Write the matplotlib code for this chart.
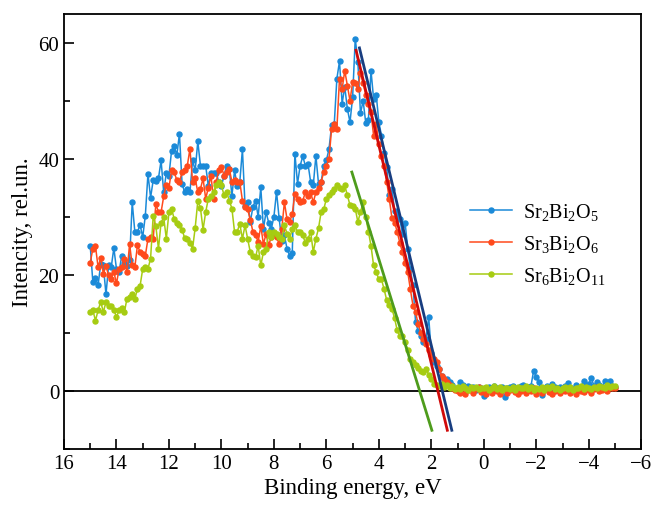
import numpy as np
import matplotlib
matplotlib.use("Agg")
import matplotlib.pyplot as plt
from matplotlib.ticker import MultipleLocator

plt.rcParams["font.family"] = ["Liberation Serif", "DejaVu Serif"]
plt.rcParams["mathtext.fontset"] = "custom"
plt.rcParams["mathtext.rm"] = "Liberation Serif"
plt.rcParams["mathtext.it"] = "Liberation Serif:italic"

# binding energy grid, 15 eV down to -5 eV in 0.1 eV steps
energy = np.round(np.arange(150, -51, -1) / 10, 1)

sr2 = [
    25.0, 18.7, 19.4, 18.2, 21.9, 21.6, 16.6, 21.6, 21.3, 24.6,
    21.0, 20.5, 23.3, 22.0, 21.5, 22.5, 32.5, 27.4, 27.4, 28.6,
    26.5, 30.2, 37.4, 33.3, 36.3, 36.2, 36.6, 39.7, 34.2, 37.6,
    37.1, 41.4, 42.2, 40.6, 44.3, 35.7, 34.2, 34.8, 34.2, 39.7,
    38.0, 43.0, 38.8, 38.8, 38.8, 35.3, 37.6, 37.6, 37.6, 36.0,
    35.3, 37.1, 38.8, 38.2, 33.6, 38.0, 35.3, 36.0, 41.6, 31.9,
    32.5, 29.1, 31.7, 32.8, 30.0, 35.1, 27.9, 30.8, 29.0, 27.9,
    30.0, 34.3, 29.7, 25.9, 26.8, 24.5, 23.3, 23.8, 40.9, 35.7,
    38.8, 40.4, 38.8, 39.1, 36.0, 35.4, 40.5, 35.7, 36.0, 38.8,
    39.7, 41.7, 45.8, 46.0, 53.8, 56.8, 49.5, 52.4, 48.6, 46.3,
    50.6, 60.7, 56.7, 47.8, 50.0, 46.2, 46.6, 55.2, 50.3, 51.0,
    46.3, 44.0, 41.0, 38.5, 33.7, 34.8, 31.0, 30.2, 29.6, 27.0,
    29.0, 24.5, 21.0, 18.2, 11.8, 10.3, 9.5, 8.4, 9.0, 12.7,
    6.5, 4.9, 4.2, 3.8, 2.5, 2.0, 2.1, 1.5, 1.0, 0.3,
    0.3, 1.6, 1.0, 0.5, 0.8, 0.3, 0.6, 0.2, 0.7, 0.5,
    -0.9, 0.4, 0.6, 0.3, 0.8, 0.5, 0.2, 0.6, -1.1, 0.4,
    0.7, 0.9, 0.5, 0.3, 0.8, 1.0, 0.4, 0.6, 0.9, 3.5,
    2.4, 1.6, -0.8, 0.5, 0.9, 0.3, 1.2, 0.7, 0.4, 0.6,
    0.2, 0.8, 1.3, 0.5, 0.3, 1.0, 0.2, 0.6, 1.7, 0.9,
    1.2, 2.2, 0.8, 1.6, 1.0, 0.5, 1.7, 0.8, 1.7, 0.9,
    0.7,
]

sr3 = [
    22.1, 24.5, 24.9, 21.3, 22.9, 20.2, 21.5, 19.9, 19.3, 20.5,
    18.5, 21.0, 21.3, 22.7, 20.4, 25.3, 21.6, 21.3, 25.1, 23.9,
    23.6, 23.3, 26.2, 26.5, 26.2, 32.2, 30.8, 30.8, 33.5, 35.4,
    35.0, 38.0, 37.7, 36.3, 36.0, 37.7, 38.0, 38.8, 41.7, 36.0,
    36.6, 34.2, 34.8, 36.6, 33.1, 35.0, 37.1, 33.1, 36.0, 38.0,
    38.6, 37.1, 37.7, 38.3, 36.0, 36.3, 36.0, 36.0, 32.8, 31.7,
    31.3, 29.5, 27.4, 26.8, 25.7, 28.4, 25.3, 27.0, 25.1, 26.5,
    26.8, 26.5, 25.3, 27.9, 32.5, 29.6, 29.1, 30.5, 34.0, 33.0,
    32.5, 32.8, 34.2, 33.5, 34.2, 32.5, 34.2, 35.0, 36.0, 37.7,
    38.8, 40.0, 45.2, 46.0, 45.2, 53.8, 52.0, 55.2, 52.6, 50.0,
    53.2, 53.0, 52.0, 54.8, 53.0, 51.0, 49.5, 48.0, 44.0, 46.0,
    42.5, 40.5, 38.8, 36.0, 33.0, 29.7, 29.0, 27.4, 25.5, 23.9,
    22.0, 20.5, 17.5, 14.7, 13.5, 11.5, 10.0, 9.0, 8.0, 7.0,
    6.1, 5.5, 4.9, 3.8, 2.6, 2.0, 1.5, 1.0, 0.5, 0.2,
    0.0, -0.3, 0.4, -0.5, 0.2, 0.1, -0.4, 0.3, 0.6, -0.2,
    0.2, -0.6, 0.1, -0.3, 0.4, 0.0, -0.5, 0.2, 0.3, -0.4,
    0.1, 0.5, -0.2, -0.6, 0.0, 0.3, -0.4, 0.2, -0.1, 0.4,
    -0.5, 0.1, -0.3, 0.2, 0.5, -0.2, -0.6, 0.0, 0.3, -0.4,
    0.2, -0.1, 0.4, -0.3, 0.1, -0.5, 0.3, 0.0, -0.2, 0.4,
    0.1, -0.4, 0.3, 0.6, -0.1, 0.2, 0.5, 0.0, 0.7, 0.4,
    0.5,
]

sr6 = [
    13.6, 13.9, 12.1, 13.9, 15.3, 13.6, 15.3, 14.7, 14.7, 14.0,
    12.7, 13.9, 14.2, 13.5, 15.9, 16.1, 16.7, 15.8, 17.6, 18.1,
    21.0, 21.3, 21.0, 22.8, 30.2, 28.4, 24.5, 29.0, 29.9, 26.2,
    30.8, 31.4, 29.6, 29.0, 28.5, 27.8, 26.3, 26.2, 25.5, 24.5,
    28.1, 32.7, 31.5, 27.8, 30.8, 33.1, 33.5, 34.2, 35.4, 36.0,
    35.4, 33.7, 34.2, 32.8, 31.4, 27.4, 27.4, 28.8, 26.2, 28.5,
    26.2, 23.9, 23.3, 23.0, 25.0, 21.6, 23.9, 24.4, 27.4, 26.5,
    27.4, 27.1, 26.5, 26.2, 28.5, 27.1, 26.2, 27.9, 28.5, 27.4,
    27.4, 26.8, 25.5, 26.2, 27.4, 23.9, 26.2, 28.0, 30.8, 31.3,
    33.1, 33.7, 34.2, 34.8, 35.4, 35.0, 34.8, 35.4, 33.7, 32.0,
    31.8, 31.4, 29.1, 30.8, 32.5, 30.0, 27.4, 25.0, 21.6, 20.5,
    19.2, 19.2, 17.5, 15.6, 14.8, 14.1, 12.5, 10.4, 9.5, 9.5,
    8.4, 7.0, 5.5, 5.0, 4.4, 4.0, 3.5, 3.2, 3.8, 2.8,
    2.1, 1.2, 1.0, 0.9, 1.2, 0.6, 1.0, 0.4, 0.8, 0.3,
    0.6, 0.3, 0.8, 0.5, 0.2, 0.7, 0.4, 0.6, 0.3, 0.5,
    0.4, 0.7, 0.2, 0.5, 0.8, 0.3, 0.6, 0.1, 0.5, 0.4,
    0.3, 0.6, 0.2, 0.7, 0.4, 0.5, 0.8, 0.3, 0.6, 0.2,
    0.5, 0.3, 0.7, 0.2, 0.6, 0.4, 0.8, 0.3, 0.5, 0.2,
    0.4, 0.7, 0.3, 0.6, 0.2, 0.5, 0.4, 0.8, 0.3, 0.6,
    0.5, 0.3, 0.7, 0.4, 0.9, 0.6, 0.5, 1.0, 0.7, 0.8,
    0.9,
]

labels = [r"Sr$_2$Bi$_2$O$_5$", r"Sr$_3$Bi$_2$O$_6$", r"Sr$_6$Bi$_2$O$_{11}$"]
colors = ["#1b8ad8", "#ff4a1c", "#a6cc12"]

# linear fits of the leading edge (end points)
fit_x = [[4.74, 1.22], [4.87, 1.39], [5.03, 1.98]]
fit_y = [[59.1, -6.8], [58.7, -6.8], [37.7, -6.8]]
fit_colors = ["#183d80", "#d00a0a", "#4e9c1c"]

fig = plt.figure(figsize=(6.53, 5.06), dpi=100)
ax = fig.add_axes([0.098, 0.111, 0.884, 0.860])

ax.axhline(0, color="black", lw=1.3, zorder=1)

for ys, c, lab in zip([sr2, sr3, sr6], colors, labels):
    ax.plot(energy, ys, "-o", color=c, lw=1.1, ms=3.6, label=lab, zorder=2)

for fx, fy, c in zip(fit_x, fit_y, fit_colors):
    ax.plot(fx, fy, color=c, lw=2.0, zorder=3)

ax.set_xlim(16, -6)
ax.set_ylim(-10, 65)
ax.xaxis.set_major_locator(MultipleLocator(2))
ax.xaxis.set_minor_locator(MultipleLocator(1))
ax.yaxis.set_major_locator(MultipleLocator(20))
ax.yaxis.set_minor_locator(MultipleLocator(10))
ax.tick_params(which="both", direction="in", top=False, right=False, labelsize=15, width=1.2)
ax.tick_params(which="major", length=7)
ax.tick_params(which="minor", length=4)
for s in ax.spines.values():
    s.set_linewidth(1.3)

ax.set_xlabel("Binding energy, eV", fontsize=16.5, labelpad=3)
ax.set_ylabel("Intencity, rel.un.", fontsize=16.5, labelpad=4)

ax.legend(loc="center left", bbox_to_anchor=(0.703, 0.471), frameon=False,
          fontsize=14.5, handlelength=2.1, labelspacing=0.55, borderaxespad=0,
          borderpad=0, handletextpad=0.55)

fig.savefig("out.png", dpi=100)
